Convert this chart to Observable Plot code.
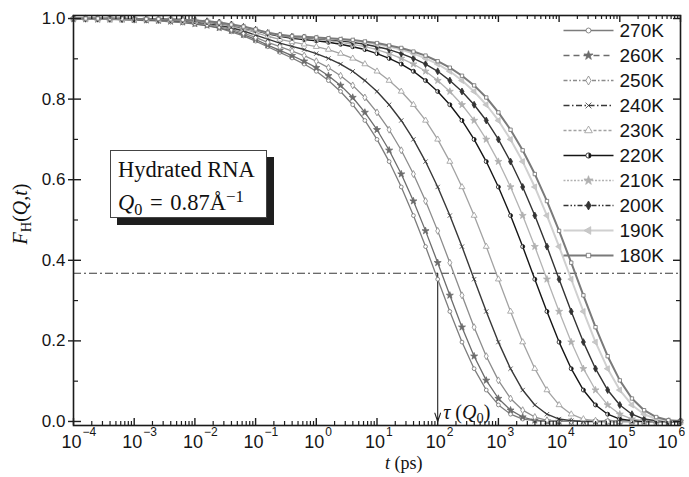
<!DOCTYPE html>
<html><head><meta charset="utf-8">
<script src="https://cdn.jsdelivr.net/npm/d3@7"></script>
<script src="https://cdn.jsdelivr.net/npm/@observablehq/plot@0.6"></script>
<style>
html,body{margin:0;padding:0;background:#fff;overflow:hidden;}
#wrap{position:relative;width:689px;height:477px;}
#wrap svg{display:block;}
.ov{position:absolute;white-space:nowrap;font-family:"Liberation Serif","Times New Roman",serif;color:#111;}
.ov sub,.ov sup{position:relative;vertical-align:baseline;}
.ov sub{font-size:0.72em;top:0.3em;}
.ov sup{font-size:0.75em;top:-0.45em;}
#legend{position:absolute;left:557px;top:15px;}
#box{position:absolute;left:110px;top:150px;width:157px;height:68px;box-sizing:border-box;border:1px solid #444;background:#fff;box-shadow:7px 7px 0 #1e1e1e;}
</style></head><body><div id="wrap"></div><script>
// ---- data ----
const logT = [-4,-3.8,-3.6,-3.4,-3.2,-3,-2.8,-2.6,-2.4,-2.2,-2,-1.8,-1.6,-1.4,-1.2,-1,-0.8,-0.6,-0.4,-0.2,0,0.2,0.4,0.6,0.8,1,1.2,1.4,1.6,1.8,2,2.2,2.4,2.6,2.8,3,3.2,3.4,3.6,3.8,4,4.2,4.4,4.6,4.8,5,5.2,5.4,5.6,5.8,6];
const F270 = [0.999,0.999,0.998,0.998,0.997,0.996,0.995,0.994,0.992,0.990,0.986,0.982,0.976,0.967,0.957,0.944,0.930,0.916,0.902,0.887,0.869,0.846,0.819,0.786,0.747,0.700,0.645,0.582,0.511,0.434,0.353,0.273,0.197,0.131,0.078,0.041,0.018,0.006,0.002,0,0,0,0,0,0,0,0,0,0,0,0];
const F260 = [0.999,0.999,0.998,0.998,0.998,0.997,0.996,0.995,0.993,0.991,0.987,0.983,0.977,0.970,0.960,0.948,0.934,0.921,0.908,0.894,0.878,0.858,0.834,0.804,0.767,0.724,0.673,0.614,0.547,0.473,0.394,0.313,0.234,0.162,0.102,0.057,0.028,0.011,0.003,0.001,0,0,0,0,0,0,0,0,0,0,0];
const F250 = [0.999,0.999,0.999,0.998,0.998,0.997,0.997,0.995,0.994,0.992,0.989,0.985,0.980,0.973,0.964,0.953,0.941,0.930,0.919,0.908,0.894,0.878,0.858,0.834,0.804,0.767,0.724,0.673,0.614,0.547,0.473,0.394,0.313,0.234,0.162,0.102,0.057,0.028,0.011,0.003,0.001,0,0,0,0,0,0,0,0,0,0];
const F240 = [0.999,0.999,0.999,0.999,0.998,0.998,0.997,0.996,0.995,0.994,0.991,0.988,0.983,0.977,0.969,0.959,0.949,0.939,0.931,0.923,0.913,0.901,0.887,0.869,0.846,0.819,0.786,0.747,0.700,0.645,0.582,0.511,0.434,0.353,0.273,0.197,0.131,0.078,0.041,0.018,0.006,0.002,0,0,0,0,0,0,0,0,0];
const F230 = [1.000,1.000,0.999,0.999,0.999,0.999,0.998,0.997,0.996,0.995,0.993,0.990,0.986,0.981,0.974,0.965,0.956,0.948,0.942,0.936,0.930,0.923,0.913,0.901,0.887,0.869,0.846,0.819,0.786,0.747,0.700,0.645,0.582,0.511,0.434,0.353,0.273,0.197,0.131,0.078,0.041,0.018,0.006,0.002,0,0,0,0,0,0,0];
const F220 = [1.000,1.000,1.000,0.999,0.999,0.999,0.999,0.998,0.997,0.996,0.995,0.992,0.989,0.984,0.977,0.970,0.962,0.956,0.951,0.948,0.945,0.941,0.936,0.930,0.923,0.913,0.901,0.887,0.869,0.846,0.819,0.786,0.747,0.700,0.645,0.582,0.511,0.434,0.353,0.273,0.197,0.131,0.078,0.041,0.018,0.006,0.002,0,0,0,0];
const F210 = [1.000,1.000,1.000,1.000,0.999,0.999,0.999,0.998,0.998,0.997,0.995,0.993,0.989,0.984,0.978,0.971,0.963,0.957,0.953,0.951,0.948,0.945,0.941,0.936,0.930,0.923,0.913,0.901,0.887,0.869,0.846,0.819,0.786,0.747,0.700,0.645,0.582,0.511,0.434,0.353,0.273,0.197,0.131,0.078,0.041,0.018,0.006,0.002,0,0,0];
const F200 = [1.000,1.000,1.000,1.000,0.999,0.999,0.999,0.998,0.998,0.997,0.995,0.993,0.990,0.985,0.979,0.972,0.964,0.958,0.955,0.953,0.950,0.948,0.945,0.941,0.936,0.930,0.923,0.913,0.901,0.887,0.869,0.846,0.819,0.786,0.747,0.700,0.645,0.582,0.511,0.434,0.353,0.273,0.197,0.131,0.078,0.041,0.018,0.006,0.002,0,0];
const F190 = [1.000,1.000,1.000,1.000,1.000,0.999,0.999,0.999,0.998,0.997,0.995,0.993,0.990,0.985,0.979,0.972,0.965,0.959,0.956,0.954,0.952,0.950,0.948,0.945,0.941,0.936,0.930,0.923,0.913,0.901,0.887,0.869,0.846,0.819,0.786,0.747,0.700,0.645,0.582,0.511,0.434,0.353,0.273,0.197,0.131,0.078,0.041,0.018,0.006,0.002,0];
const F180 = [1.000,1.000,1.000,1.000,1.000,0.999,0.999,0.999,0.998,0.997,0.995,0.993,0.990,0.985,0.980,0.973,0.965,0.960,0.956,0.955,0.953,0.951,0.949,0.947,0.943,0.939,0.933,0.927,0.918,0.908,0.894,0.878,0.858,0.834,0.804,0.767,0.724,0.673,0.614,0.547,0.473,0.394,0.313,0.234,0.162,0.102,0.057,0.028,0.011,0.003,0.001];
const temps = ["270K","260K","250K","240K","230K","220K","210K","200K","190K","180K"];
const yMajor = [0,0.2,0.4,0.6,0.8,1.0];
const yMinor = [0.1,0.3,0.5,0.7,0.9];
const decades = [-4,-3,-2,-1,0,1,2,3,4,5,6];
const minorMult = [2,3,4,5,6,7,8,9];
const eLevel = 0.368;   // 1/e level
const tau270 = 100;     // tau(Q0) in ps

// ---- build table ----
const seriesValues = {"270K":F270,"260K":F260,"250K":F250,"240K":F240,"230K":F230,"220K":F220,"210K":F210,"200K":F200,"190K":F190,"180K":F180};
const rows = temps.flatMap(T => logT.map((L,i) => ({T, t: Math.pow(10, L), F: seriesValues[T][i]})));
const minorX = decades.slice(0,-1).flatMap(k => minorMult.map(m => m*Math.pow(10,k)));
const majorX = decades.map(k => Math.pow(10,k));

const halfDisc = {draw(ctx, size){ const r = Math.sqrt(size/Math.PI); ctx.moveTo(0,-r); ctx.arc(0,0,r,-Math.PI/2,Math.PI/2); ctx.closePath(); }};

const styles = {
  "270K":{c:"#7c7c7c", w:1.3, sym:"circle",  fill:"#fff",    ms:"#6e6e6e", r:1.9, dash:null},
  "260K":{c:"#6c6c6c", w:1.3, sym:"star",    fill:"#6c6c6c", ms:"#6c6c6c", r:2.2, dash:"6,4"},
  "250K":{c:"#8c8c8c", w:1.3, sym:"diamond", fill:"#fff",    ms:"#858585", r:2.1, dash:"4,2,1.5,2"},
  "240K":{c:"#383838", w:1.4, sym:"times",   fill:"none",    ms:"#383838", r:2.1, dash:"6,2.5,1.5,2.5"},
  "230K":{c:"#a2a2a2", w:1.3, sym:"triangle",fill:"#fff",    ms:"#9a9a9a", r:2.2, dash:"3,2"},
  "220K":{c:"#151515", w:1.4, sym:"circle",  fill:"#fff",    ms:"#151515", r:2.0, dash:null, half:true},
  "210K":{c:"#b3b3b3", w:1.3, sym:"star",    fill:"#b0b0b0", ms:"#b0b0b0", r:2.2, dash:"2,1.5"},
  "200K":{c:"#333333", w:1.4, sym:"diamond", fill:"#333",    ms:"#333",    r:2.1, dash:"5,2,1.5,2,1.5,2"},
  "190K":{c:"#d0d0d0", w:2.0, sym:"triangle",fill:"#c8c8c8", ms:"#c0c0c0", r:2.2, dash:null, rot:-90},
  "180K":{c:"#7a7a7a", w:2.0, sym:"square",  fill:"#fff",    ms:"#6e6e6e", r:1.9, dash:null}
};

function dotMarks(data, T, x, y, rScale){
  const s = styles[T];
  const o = {x, y, symbol: s.sym, r: s.r*rScale, fill: s.fill, stroke: s.ms, strokeWidth: 0.8};
  if (s.rot) o.rotate = s.rot;
  const m = [Plot.dot(data, o)];
  if (s.half) m.push(Plot.dot(data, {x, y, symbol: halfDisc, r: s.r*rScale, fill: s.ms, stroke: "none"}));
  return m;
}

const W = 689, H = 477, mL = 73, mR = 9, mT = 15, mB = 52;
const iw = W - mL - mR, ih = H - mT - mB;
const tickCol = "#1e1e1e";

const curveMarks = [];
for (const T of temps) {
  const d = rows.filter(r => r.T === T);
  curveMarks.push(Plot.line(d, {x:"t", y:"F", stroke: styles[T].c, strokeWidth: styles[T].w}));
  curveMarks.push(...dotMarks(d, T, "t", "F", 1));
}

const chart = Plot.plot({
  width: W, height: H,
  marginLeft: mL, marginRight: mR, marginTop: mT, marginBottom: mB,
  x: {type: "log", domain: [1e-4, 1e6], axis: null},
  y: {domain: [-0.01, 1.0075], axis: null},
  style: {fontFamily: '"Liberation Sans", Arial, sans-serif', fontSize: "17px", color: "#151515", background: "#fff", overflow: "visible"},
  marks: [
    Plot.ruleY([eLevel], {stroke: "#3a3a3a", strokeWidth: 1.1, strokeDasharray: "8,3,2,3"}),
    Plot.arrow([{x: tau270, y1: eLevel, y2: 0}], {x1: "x", x2: "x", y1: "y1", y2: "y2", stroke: "#222", strokeWidth: 1.1, headLength: 12, headAngle: 38}),
    ...curveMarks,
    Plot.frame({stroke: "#1a1a1a", strokeWidth: 1.6}),
    // left axis ticks
    Plot.tickY(yMajor, {y: d => d, insetRight: iw - 13, dx: -5, stroke: tickCol, strokeWidth: 1.4}),
    Plot.tickY(yMinor, {y: d => d, insetRight: iw - 5, stroke: tickCol, strokeWidth: 1.2}),
    // right axis ticks
    Plot.tickY(yMajor, {y: d => d, insetLeft: iw - 7, stroke: tickCol, strokeWidth: 1.4}),
    Plot.tickY(yMinor, {y: d => d, insetLeft: iw - 4, stroke: tickCol, strokeWidth: 1.2}),
    // bottom axis ticks
    Plot.tickX(majorX, {x: d => d, insetTop: ih - 7, stroke: tickCol, strokeWidth: 1.4}),
    Plot.tickX(minorX, {x: d => d, insetTop: ih - 4, stroke: tickCol, strokeWidth: 1.2}),
    // top axis ticks
    Plot.tickX(majorX, {x: d => d, insetBottom: ih - 7, stroke: tickCol, strokeWidth: 1.4}),
    Plot.tickX(minorX, {x: d => d, insetBottom: ih - 4, stroke: tickCol, strokeWidth: 1.2}),
    // y tick labels
    Plot.text(yMajor, {y: d => d, frameAnchor: "left", text: d => d.toFixed(1), textAnchor: "end", dx: -8, fontSize: 17}),
    // x tick labels: base "10" and exponent
    Plot.text(decades.slice(0, -1), {x: d => Math.pow(10, d), frameAnchor: "bottom", text: () => "10", textAnchor: "middle", dx: -2, dy: 17, lineAnchor: "middle", fontSize: 18}),
    Plot.text(decades.slice(0, -1), {x: d => Math.pow(10, d), frameAnchor: "bottom", text: d => d < 0 ? "\u2212" + (-d) : String(d), textAnchor: "start", dx: 9, dy: 7, lineAnchor: "middle", fontSize: 12}),
    Plot.text(decades.slice(-1), {x: d => Math.pow(10, d), frameAnchor: "bottom", text: () => "10", textAnchor: "middle", dx: -13, dy: 17, lineAnchor: "middle", fontSize: 18}),
    Plot.text(decades.slice(-1), {x: d => Math.pow(10, d), frameAnchor: "bottom", text: d => String(d), textAnchor: "start", dx: -2, dy: 7, lineAnchor: "middle", fontSize: 12})
  ]
});

const wrap = document.getElementById("wrap");
wrap.appendChild(chart);

// ---- legend (its own small Plot with an ordinal y scale) ----
const legendMarks = [];
for (const T of temps) {
  const s = styles[T];
  const lo = {x1: () => 0, x2: () => 1, y1: d => d, y2: d => d, stroke: s.c, strokeWidth: Math.max(1.5, s.w + 0.2)};
  if (s.dash) lo.strokeDasharray = s.dash;
  legendMarks.push(Plot.link([T], lo));
  legendMarks.push(...dotMarks([T], T, () => 0.5, d => d, 1.3));
}
legendMarks.push(Plot.text(temps, {x: () => 1, y: d => d, text: d => d, textAnchor: "start", dx: 6, fontSize: 19, fill: "#151515"}));
const legend = Plot.plot({
  width: 132, height: 262, margin: 0,
  x: {domain: [0, 1], range: [6, 56], axis: null},
  y: {type: "point", domain: temps, range: [12, 243], padding: 0, axis: null},
  style: {fontFamily: '"Liberation Sans", Arial, sans-serif', background: "transparent", overflow: "visible"},
  marks: legendMarks
});
legend.id = "legend";
wrap.appendChild(legend);

// ---- text annotations ----
const sx = chart.scale("x"), sy = chart.scale("y");
function addDiv(html, css, parent) { const d = document.createElement("div"); d.className = "ov"; d.innerHTML = html; Object.assign(d.style, css); (parent || wrap).appendChild(d); return d; }

// annotation box
const box = document.createElement("div"); box.id = "box"; wrap.appendChild(box);
addDiv("Hydrated RNA", {left: "7px", top: "8px", fontSize: "22.5px", lineHeight: "22px"}, box);
addDiv("<i>Q</i><sub>0</sub> = 0.87\u00C5<sup>\u22121</sup>", {left: "7px", top: "41px", fontSize: "22.5px", lineHeight: "22px", wordSpacing: "2px"}, box);

// tau(Q0) label next to the arrow
addDiv("<i>\u03C4</i> (<i>Q</i><sub>0</sub>)", {left: (sx.apply(tau270) + 6) + "px", top: (sy.apply(0) - 19) + "px", fontSize: "20px", lineHeight: "20px"});

// axis titles
addDiv("<i>t</i> (ps)", {left: "385px", top: "454px", fontSize: "18px", lineHeight: "18px"});
addDiv("<i>F</i><sub>H</sub>(<i>Q</i>,<i>t</i>)", {left: "21px", top: "214px", fontSize: "20px", lineHeight: "20px", transform: "translate(-50%,-50%) rotate(-90deg)"});
</script></body></html>
